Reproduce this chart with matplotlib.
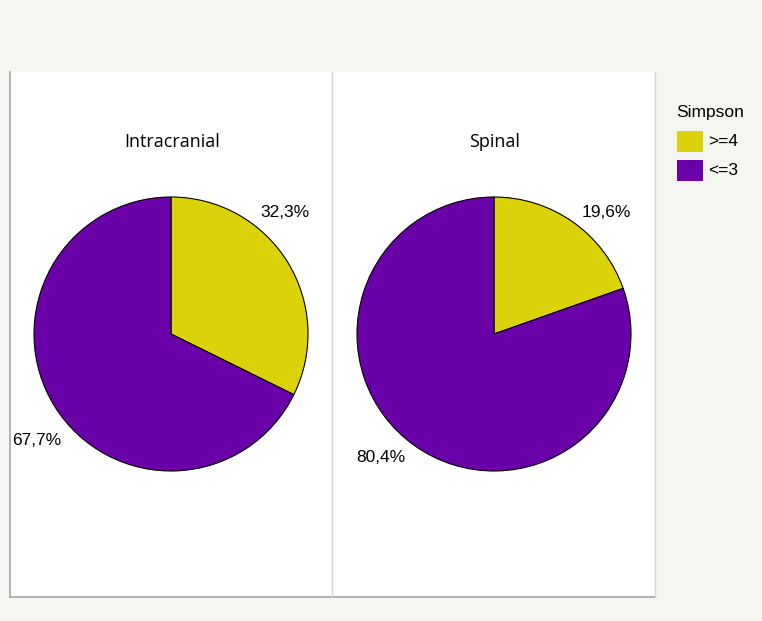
import matplotlib.pyplot as plt
from matplotlib.patches import Rectangle
from matplotlib.lines import Line2D

W, H = 762, 621

# data
groups = ["Intracranial", "Spinal"]
categories = [">=4", "<=3"]
values = [[32.3, 67.7], [19.6, 80.4]]
labels = [["32,3%", "67,7%"], ["19,6%", "80,4%"]]
colors = ["#dcd20a", "#6a00a8"]

# label positions relative to pie centre (in radius units) -- layout only
label_pos = [[(0.83, 0.89), (-0.98, -0.78)], [(0.82, 0.89), (-0.825, -0.905)]]
centers_px = [171, 494]
cy_px = 334
r_px = 137

fig = plt.figure(figsize=(W / 100, H / 100), dpi=100)
fig.patch.set_facecolor("#f5f5f1")


def fx(x):
    return x / W


def fy(y):
    return 1 - y / H


# white panel with borders
fig.add_artist(Rectangle((fx(10), fy(597)), fx(655 - 10), (597 - 72) / H,
                         transform=fig.transFigure, facecolor="white", edgecolor="none", zorder=0))
fig.add_artist(Line2D([fx(10), fx(10)], [fy(72), fy(597)], transform=fig.transFigure, color="#a8a8a8", lw=1.2))
fig.add_artist(Line2D([fx(10), fx(655)], [fy(597), fy(597)], transform=fig.transFigure, color="#a8a8a8", lw=1.2))
fig.add_artist(Line2D([fx(332), fx(332)], [fy(72), fy(597)], transform=fig.transFigure, color="#d4d4d4", lw=1))
fig.add_artist(Line2D([fx(655), fx(655)], [fy(72), fy(597)], transform=fig.transFigure, color="#d4d4d4", lw=1))

for i, g in enumerate(groups):
    cx = centers_px[i]
    ax = fig.add_axes([fx(cx - r_px), fy(cy_px + r_px), 2 * r_px / W, 2 * r_px / H])
    ax.pie(values[i], colors=colors, startangle=90, counterclock=False,
           wedgeprops=dict(edgecolor="black", linewidth=0.8), radius=1)
    ax.set_xlim(-1, 1)
    ax.set_ylim(-1, 1)
    ax.set_aspect("equal")
    ax.axis("off")
    for j, lab in enumerate(labels[i]):
        px, py = label_pos[i][j]
        ax.text(px, py, lab, ha="center", va="center", fontsize=12.5,
                family="Liberation Sans", clip_on=False)
    fig.text(fx(cx + 1), fy(142), g, ha="center", va="center", fontsize=13, family="Open Sans")

# legend drawn by hand
fig.text(fx(676), fy(112), "Simpson", ha="left", va="center", fontsize=12.5, family="Liberation Sans")
for k, cat in enumerate(categories):
    top = 131 + k * 29
    fig.add_artist(Rectangle((fx(677), fy(top + 21)), 26 / W, 21 / H,
                             transform=fig.transFigure, facecolor=colors[k], edgecolor="none"))
    fig.text(fx(708), fy(top + 10.5), cat, ha="left", va="center", fontsize=12.5, family="Liberation Sans")

fig.savefig("out.png", dpi=100, facecolor=fig.get_facecolor())
